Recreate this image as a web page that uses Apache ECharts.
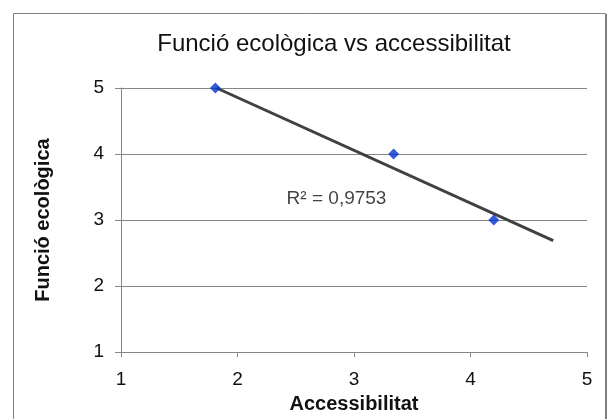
<!DOCTYPE html>
<html>
<head>
<meta charset="utf-8">
<script src="https://cdn.jsdelivr.net/npm/echarts@6/dist/echarts.min.js"></script>
<style>html,body{margin:0;padding:0;background:#fff}#c{width:610px;height:419px}</style>
</head>
<body>
<div id="c"></div>
<script>
var titleText = 'Funció ecològica vs accessibilitat';
var xName = 'Accessibilitat';
var yName = 'Funció ecològica';
var accessibilitat = [1.81, 3.34, 4.20];
var funcio = [5, 4, 3];
var trendX = [1.82, 4.71];
var trendY = [5.0, 2.69];
var r2Label = 'R² = 0,9753';
var r2Pos = [2.85, 3.32];

var font = 'Arial, "Liberation Sans", sans-serif';
var chart = echarts.init(document.getElementById('c'), null, {renderer: 'canvas'});
chart.setOption({
  animation: false,
  backgroundColor: '#fff',
  title: {
    text: titleText, left: 329, top: 27, textAlign: 'center',
    textStyle: {fontFamily: font, fontSize: 24, fontWeight: 'normal', color: '#111'}
  },
  grid: {left: 121, right: 23, top: 88, bottom: 66},
  xAxis: {
    type: 'value', min: 1, max: 5, interval: 1,
    name: xName, nameLocation: 'middle', nameGap: 35,
    nameTextStyle: {fontFamily: font, fontSize: 20, fontWeight: 'bold', color: '#111'},
    axisLine: {show: true, lineStyle: {color: '#868686', width: 1}},
    axisTick: {show: true, length: 5, lineStyle: {color: '#868686'}},
    axisLabel: {fontFamily: font, fontSize: 19, color: '#111', margin: 18},
    splitLine: {show: false}
  },
  yAxis: {
    type: 'value', min: 1, max: 5, interval: 1,
    name: yName, nameLocation: 'middle', nameGap: 68, nameRotate: 90,
    nameTextStyle: {fontFamily: font, fontSize: 20, fontWeight: 'bold', color: '#111'},
    axisLine: {show: true, lineStyle: {color: '#868686', width: 1}},
    axisTick: {show: true, length: 6, lineStyle: {color: '#868686'}},
    axisLabel: {fontFamily: font, fontSize: 19, color: '#111', margin: 17},
    splitLine: {show: true, lineStyle: {color: '#868686', width: 1}}
  },
  series: [
    {
      type: 'line', data: trendX.map(function (x, i) { return [x, trendY[i]]; }),
      symbol: 'none', lineStyle: {color: '#404040', width: 3}, z: 2, silent: true
    },
    {
      type: 'scatter', data: accessibilitat.map(function (x, i) { return [x, funcio[i]]; }),
      symbol: 'diamond', symbolSize: 11, itemStyle: {color: '#0033CC'}, z: 3
    },
    {
      type: 'scatter', data: [r2Pos],
      symbolSize: 1, itemStyle: {color: 'rgba(0,0,0,0)'}, silent: true,
      label: {show: true, formatter: r2Label, position: 'inside', fontFamily: font, fontSize: 19, color: '#111'}, z: 4
    }
  ],
  graphic: [
    {type: 'rect', shape: {x: 13.5, y: 13.5, width: 592, height: 430}, style: {fill: null, stroke: '#7f7f7f', lineWidth: 1}, silent: true},
    {type: 'line', shape: {x1: 606.5, y1: 14, x2: 606.5, y2: 419}, style: {stroke: '#7f7f7f', lineWidth: 1}, silent: true}
  ]
});
</script>
</body>
</html>
